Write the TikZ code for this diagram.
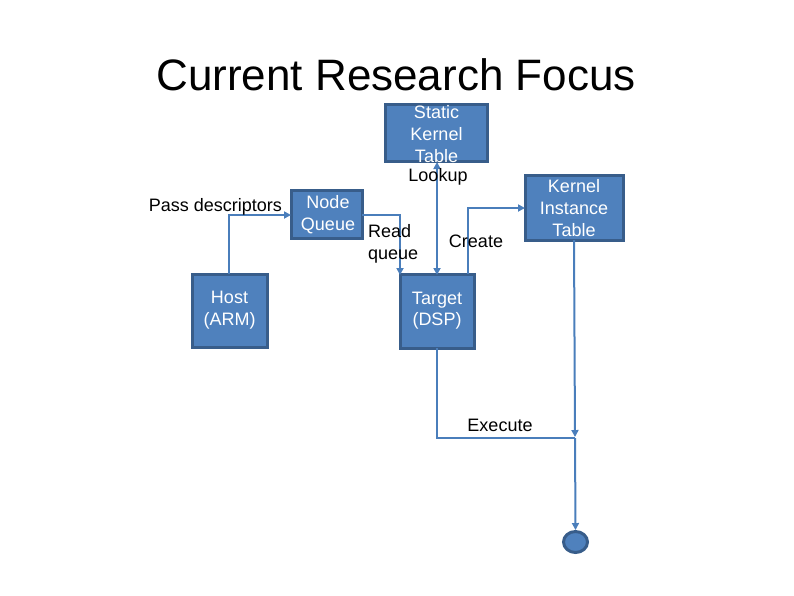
\documentclass[tikz,border=0pt]{standalone}
\usepackage{fontspec}
\setmainfont{Liberation Sans}
\usetikzlibrary{arrows.meta,shapes.geometric}
\definecolor{boxfill}{HTML}{4F81BD}
\definecolor{boxline}{HTML}{385D8A}
\definecolor{conn}{HTML}{4A7EBB}
\tikzset{
  box/.style={draw=boxline, fill=boxfill, line width=3pt, inner sep=0pt},
  boxtext/.style={text=white, font=\fontsize{18}{21.6}\selectfont, align=center, inner sep=0pt},
  lbl/.style={text=black, font=\fontsize{18}{21.6}\selectfont, inner sep=0pt},
  conn/.style={draw=conn, line width=2pt},
  tip/.style={-{Triangle[length=7pt,width=7pt]}},
  tips/.style={{Triangle[length=7pt,width=7pt]}-{Triangle[length=7pt,width=7pt]}}
}
\begin{document}
\begin{tikzpicture}[x=1pt,y=-1pt]
\useasboundingbox (0,0) rectangle (794,595);
% title
\node[inner sep=0pt, font=\fontsize{44}{52}\selectfont] (title) at (396,75) {Current Research Focus};
% boxes
\node[box, minimum width=102pt, minimum height=57pt] (skt) at (436.5,133) {};
\node[boxtext] (skttext) at (436.5,134) {Static\\Kernel\\Table};
\node[box, minimum width=71pt, minimum height=48pt] (nq) at (326.5,214) {};
\node[boxtext] (nqtext) at (328,214.5) {Node\\Queue};
\node[box, minimum width=75pt, minimum height=73pt] (host) at (229.5,310.5) {};
\node[boxtext] (hosttext) at (229.5,310) {Host\\(ARM)};
\node[box, minimum width=74pt, minimum height=74pt] (tgt) at (437,311) {};
\node[boxtext] (tgttext) at (437,310.5) {Target\\(DSP)};
\node[box, minimum width=98pt, minimum height=65pt] (kit) at (574,207.5) {};
\node[boxtext] (kittext) at (574,208) {Kernel\\Instance\\Table};
\node[draw=boxline, fill=boxfill, line width=3pt, ellipse, minimum width=24pt, minimum height=21pt, inner sep=0pt] (end) at (575.5,542) {};
% coordinates
\coordinate (hosttop) at (229,274);
\coordinate (nqleft) at (291,215);
\coordinate (nqright) at (362,215);
\coordinate (readend) at (400,275);
\coordinate (lkup) at (437,162);
\coordinate (lkdown) at (437,275);
\coordinate (crbot) at (468,274);
\coordinate (kitleft) at (525,208);
\coordinate (kitbot) at (574,240);
\coordinate (junc) at (575,437);
\coordinate (tgtbot) at (437,348);
\coordinate (jn) at (575,438);
% connectors
\draw[conn, tip] (hosttop) |- (nqleft);
\draw[conn, tip] (nqright) -| (readend);
\draw[conn, tips] (lkup) -- (lkdown);
\draw[conn, tip] (crbot) |- (kitleft);
\draw[conn, tip] (kitbot) -- (junc);
\draw[conn] (tgtbot) |- (jn);
\draw[conn, tip] (jn) -- (end.north);
% labels
\node[lbl] (lookup) at (438,177) {Lookup};
\node[lbl, anchor=east] (pass) at (282,207) {Pass descriptors};
\node[lbl, align=left, anchor=west] (read) at (368,244) {Read\\queue};
\node[lbl] (create) at (476,241) {Create};
\node[lbl] (execute) at (500,425) {Execute};
\end{tikzpicture}
\end{document}
